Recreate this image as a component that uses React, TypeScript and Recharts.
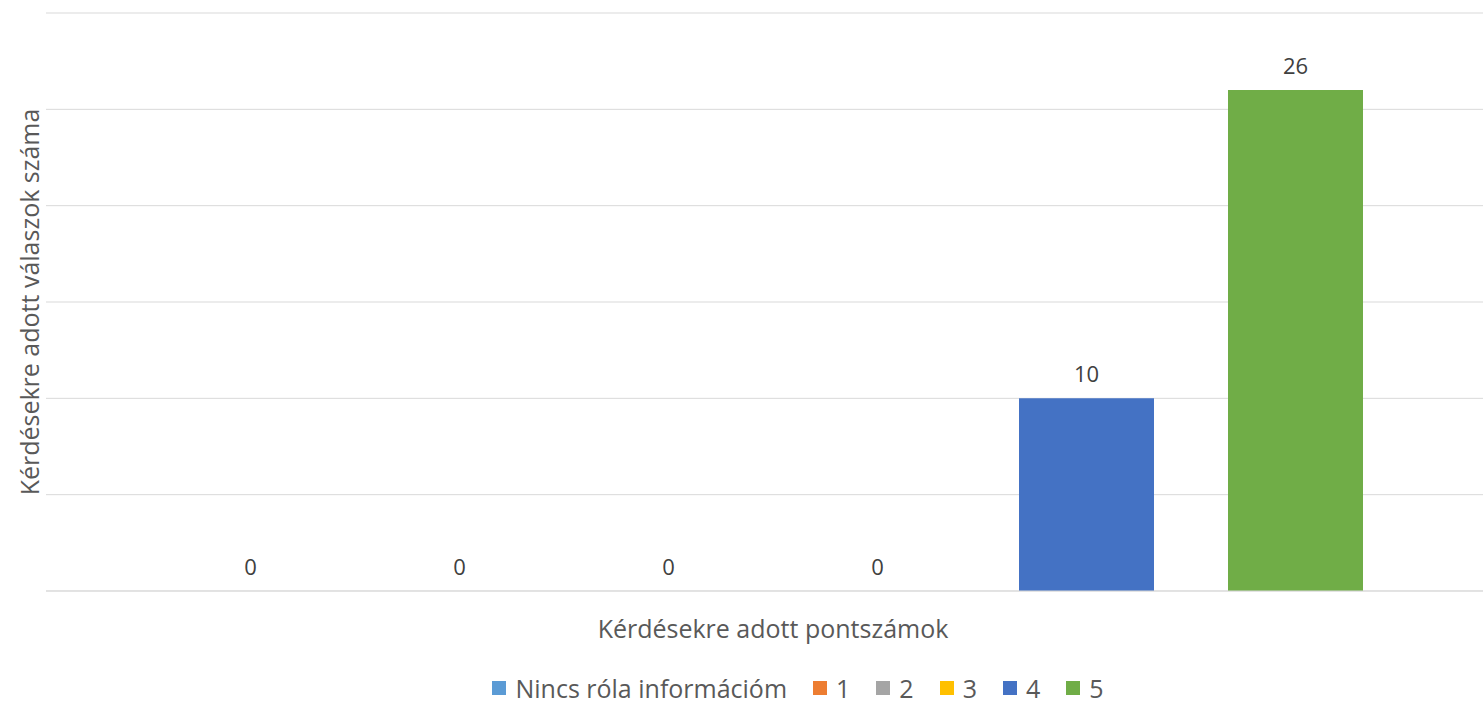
import { Bar, BarChart, CartesianGrid, LabelList, Legend, XAxis, YAxis } from "recharts";

const categories = [""];
const seriesNames = ["Nincs róla információm", "1", "2", "3", "4", "5"];
const seriesValues = [0, 0, 0, 0, 10, 26];
const seriesColors = ["#5B9BD5", "#ED7D31", "#A5A5A5", "#FFC000", "#4472C4", "#70AD47"];
const yTicks = [0, 5, 10, 15, 20, 25, 30];

const data = categories.map((name) => {
  const row: Record<string, string | number> = { name };
  seriesNames.forEach((s, i) => {
    row[s] = seriesValues[i];
  });
  return row;
});

const FONT = "'Open Sans', sans-serif";

function LegendContent() {
  return (
    <div
      style={{
        display: "flex",
        justifyContent: "center",
        alignItems: "center",
        paddingLeft: 96,
        paddingTop: 10,
        fontFamily: FONT,
        fontSize: 25,
        color: "#595959",
      }}
    >
      {seriesNames.map((s, i) => (
        <span key={s} style={{ display: "flex", alignItems: "center", marginRight: i < seriesNames.length - 1 ? 26 : 0 }}>
          <span style={{ width: 14, height: 14, background: seriesColors[i], marginRight: 9, display: "inline-block" }} />
          {s}
        </span>
      ))}
    </div>
  );
}

export default function App() {
  return (
    <div style={{ position: "absolute", left: 0, top: 0, width: 1483, height: 704, overflow: "hidden", background: "#fff" }}>
      <BarChart
        width={1500}
        height={704}
        data={data}
        margin={{ top: 13, right: 0, bottom: 0, left: 0 }}
        barSize={135}
        barGap={74}
      >
        <CartesianGrid vertical={false} stroke="#d9d9d9" />
        <XAxis
          dataKey="name"
          tick={false}
          tickLine={false}
          axisLine={{ stroke: "#d9d9d9" }}
          height={70}
          label={{
            value: "Kérdésekre adott pontszámok",
            position: "insideTop",
            offset: 29,
            fill: "#595959",
            fontSize: 25,
            fontFamily: FONT,
          }}
        />
        <YAxis
          width={46}
          domain={[0, 30]}
          ticks={yTicks}
          interval={0}
          tick={() => <g />}
          tickLine={false}
          axisLine={false}
          label={{
            value: "Kérdésekre adott válaszok száma",
            angle: -90,
            position: "center",
            dx: 7,
            fill: "#595959",
            fontSize: 25,
            fontFamily: FONT,
          }}
        />
        <Legend verticalAlign="bottom" height={43} content={() => <LegendContent />} />
        {seriesNames.map((s, i) => (
          <Bar key={s} dataKey={s} fill={seriesColors[i]} minPointSize={0.01} isAnimationActive={false}>
            <LabelList dataKey={s} position="top" offset={16} fill="#404040" fontSize={22} fontFamily={FONT} />
          </Bar>
        ))}
      </BarChart>
    </div>
  );
}
